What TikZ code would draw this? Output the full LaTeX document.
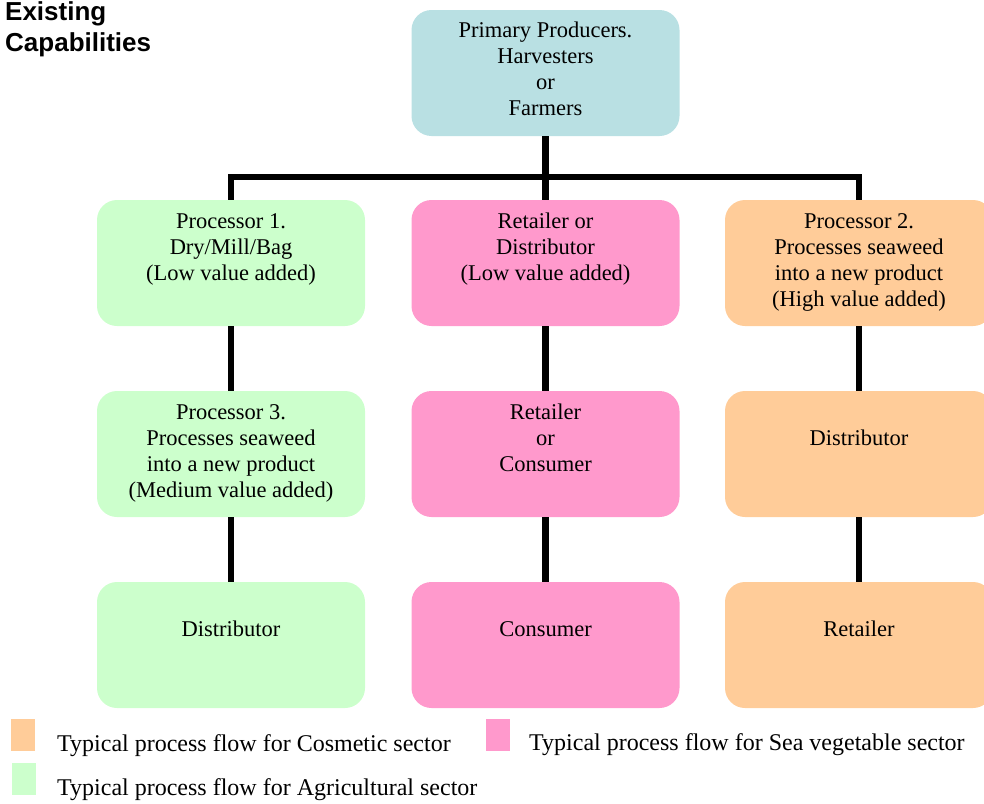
\documentclass[tikz,border=0pt]{standalone}
\usepackage{fontspec}
\setmainfont{Liberation Serif}
\newfontfamily\titlefont{Liberation Sans}
\definecolor{cblue}{HTML}{B9E0E3}
\definecolor{cgreen}{HTML}{CCFFCC}
\definecolor{cpink}{HTML}{FF99CC}
\definecolor{corange}{HTML}{FFCC99}
\tikzset{
  box/.style={rectangle, rounded corners=20pt, minimum width=268pt, minimum height=126pt, inner sep=0pt, draw=none},
  txt/.style={anchor=base, align=center, inner sep=0pt, font=\fontsize{22.5}{26}\selectfont},
  leg/.style={anchor=base west, inner sep=0pt, font=\fontsize{24}{28}\selectfont},
  ttl/.style={anchor=base west, inner sep=0pt, font=\titlefont\bfseries\fontsize{26}{31}\selectfont},
  sw/.style={rectangle, inner sep=0pt, minimum width=24pt, minimum height=32pt},
  conn/.style={line width=6.5pt, black, line join=miter},
}
\begin{document}
\begin{tikzpicture}[x=1pt,y=-1pt]
\useasboundingbox (0,0) rectangle (984,803);
\clip (0,0) rectangle (984,803);
% title
\node[ttl] (title1) at (5,20) {Existing};
\node[ttl] (title2) at (5,51) {Capabilities};
% boxes
\node[box, fill=cblue] (top) at (545.5,73) {};
\node[box, fill=cgreen] (g1) at (231,263) {};
\node[box, fill=cpink] (p1) at (545.5,263) {};
\node[box, fill=corange] (o1) at (859,263) {};
\node[box, fill=cgreen] (g2) at (231,454) {};
\node[box, fill=cpink] (p2) at (545.5,454) {};
\node[box, fill=corange] (o2) at (859,454) {};
\node[box, fill=cgreen] (g3) at (231,645) {};
\node[box, fill=cpink] (p3) at (545.5,645) {};
\node[box, fill=corange] (o3) at (859,645) {};
% connectors
\coordinate (hub) at (545.5,177);
\draw[conn] (top.south) -- (p1.north);
\draw[conn] (g1.north) -- (g1.north |- hub) -- (o1.north |- hub) -- (o1.north);
\draw[conn] (g1.south) -- (g2.north);
\draw[conn] (g2.south) -- (g3.north);
\draw[conn] (p1.south) -- (p2.north);
\draw[conn] (p2.south) -- (p3.north);
\draw[conn] (o1.south) -- (o2.north);
\draw[conn] (o2.south) -- (o3.north);
% texts (base anchor = baseline of last line)
\node[txt] (ttop) at ([yshift=-106pt]top.north) {Primary Producers.\\Harvesters\\or\\Farmers};
\node[txt] (tg1) at ([yshift=-81pt]g1.north) {Processor 1.\\Dry/Mill/Bag\\(Low value added)};
\node[txt] (tp1) at ([yshift=-81pt]p1.north) {Retailer or\\Distributor\\(Low value added)};
\node[txt] (to1) at ([yshift=-107pt]o1.north) {Processor 2.\\Processes seaweed\\into a new product\\(High value added)};
\node[txt] (tg2) at ([yshift=-107pt]g2.north) {Processor 3.\\Processes seaweed\\into a new product\\(Medium value added)};
\node[txt] (tp2) at ([yshift=-81pt]p2.north) {Retailer\\or\\Consumer};
\node[txt] (to2) at ([yshift=-55pt]o2.north) {Distributor};
\node[txt] (tg3) at ([yshift=-55pt]g3.north) {Distributor};
\node[txt] (tp3) at ([yshift=-55pt]p3.north) {Consumer};
\node[txt] (to3) at ([yshift=-55pt]o3.north) {Retailer};
% legend
\node[sw, fill=corange] (sw1) at (23,735) {};
\node[sw, fill=cpink] (sw2) at (497.5,735) {};
\node[sw, fill=cgreen] (sw3) at (23.5,778.5) {};
\node[leg] (l1) at (57,751) {Typical process flow for Cosmetic sector};
\node[leg] (l2) at (529,750) {Typical process flow for Sea vegetable sector};
\node[leg] (l3) at (57,795) {Typical process flow for Agricultural sector};
\end{tikzpicture}
\end{document}
